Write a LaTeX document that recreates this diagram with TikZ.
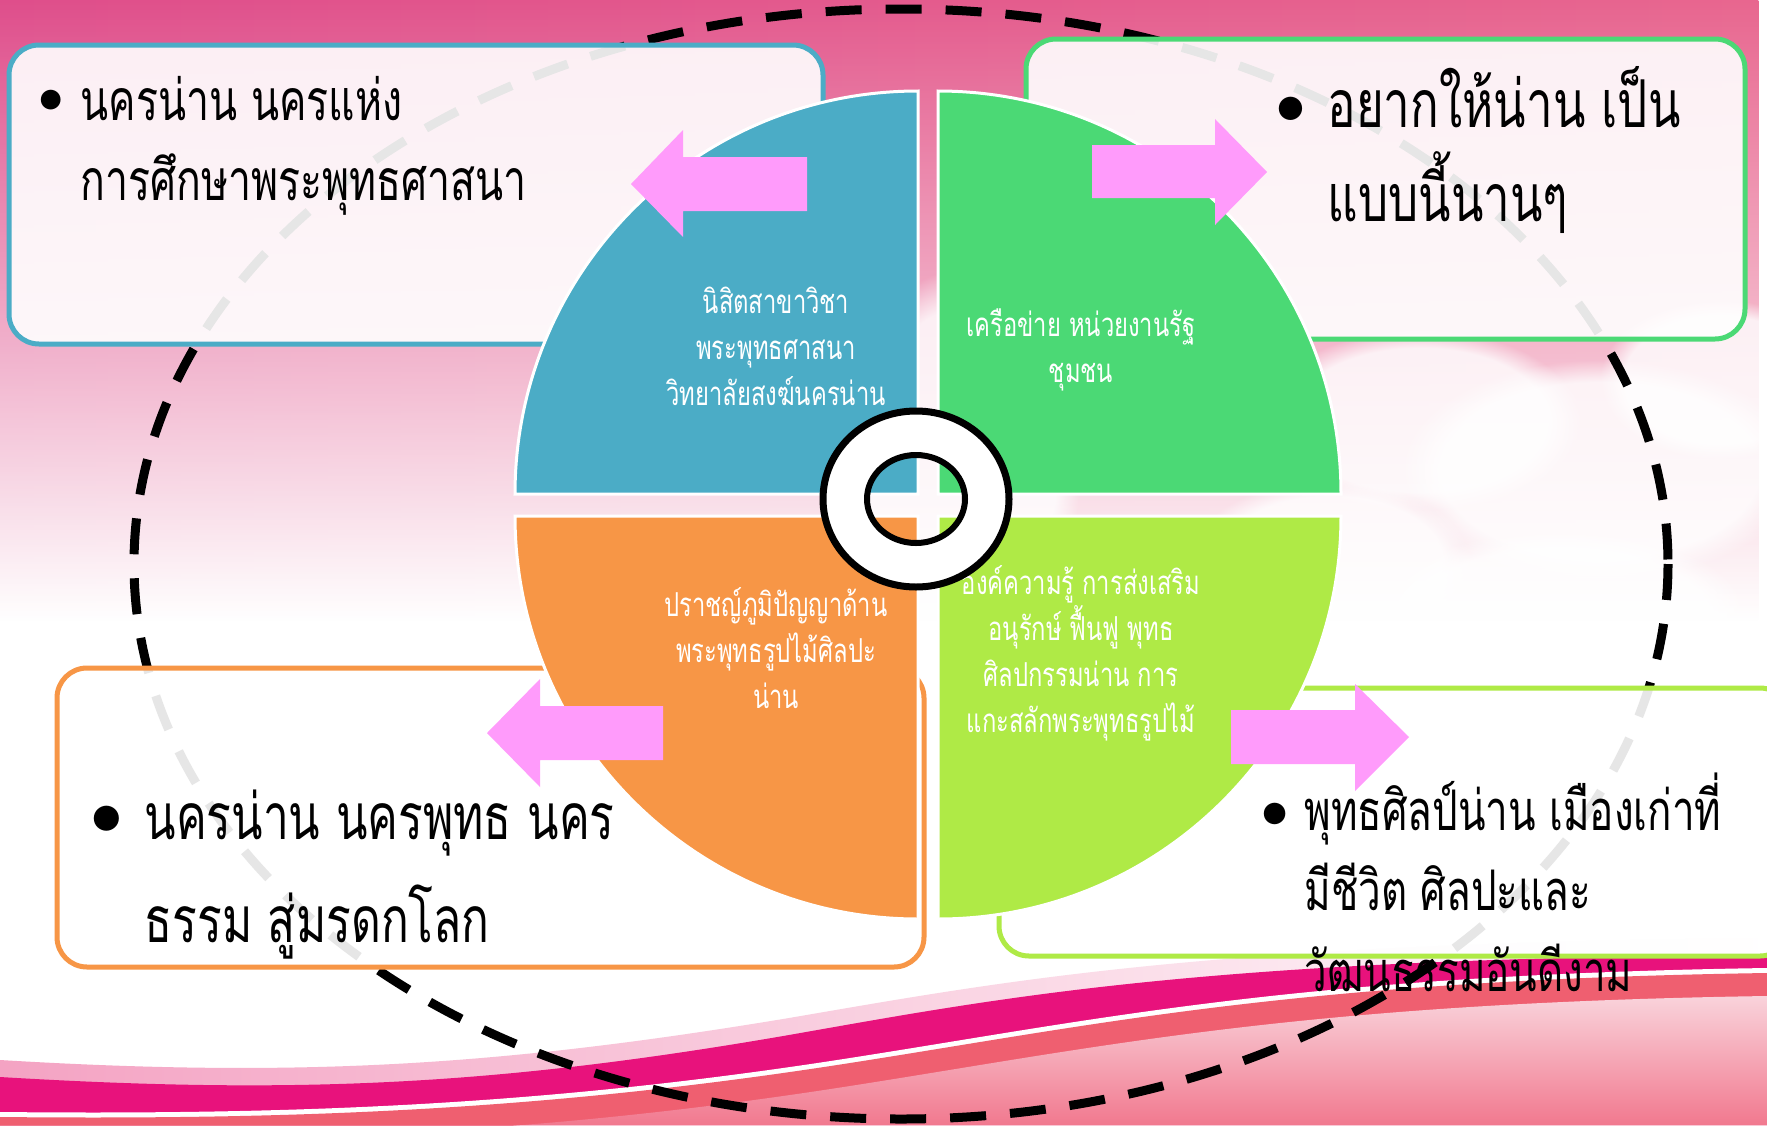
\documentclass[tikz,border=0pt]{standalone}
\usepackage{fontspec}
\newfontfamily\thai[Script=Thai,FakeStretch=0.72]{Loma}
\usetikzlibrary{fadings}
\definecolor{qblue}{HTML}{4BACC6}
\definecolor{qgreen}{HTML}{4BD975}
\definecolor{qorange}{HTML}{F79646}
\definecolor{qlime}{HTML}{AFEA46}
\definecolor{arrowpink}{HTML}{FF9BFB}
\definecolor{panelfill}{HTML}{FFFFFF}
\definecolor{skyleft}{HTML}{DF4E8B}
\definecolor{skymid}{HTML}{F4948A}
\definecolor{skyright}{HTML}{E8668F}
\definecolor{waveglow}{HTML}{F4A3C3}
\definecolor{wavebright}{HTML}{E8127C}
\definecolor{wavedark}{HTML}{A50050}
\definecolor{wavesalmon}{HTML}{EF5F70}
\definecolor{wavepale}{HTML}{F9D3DB}
\definecolor{wavedeep}{HTML}{F06C84}
\tikzfading[name=fadedown, top color=transparent!0, middle color=transparent!30, bottom color=transparent!100]
\newcommand\blt[3]{\llap{\raisebox{#3}{\rmfamily\fontsize{#1}{#1}\selectfont\textbullet}\hspace{#2}}}

\begin{document}
\begin{tikzpicture}[
						x=1pt, y=-1pt,
						quad/.style = {draw=white, line width=3pt},
						panel/.style = {rounded corners=30pt, line width=5pt, fill=panelfill, fill opacity=0.9},
						pinkarrow/.style = {fill=arrowpink},
						quadtext/.style = {text=white, align=center, anchor=base, font=\thai\fontsize{33}{46}\selectfont},
						boxtext/.style = {align=left, anchor=base west}
					]
\useasboundingbox (0,0) rectangle (1767,1125);
\fill[white] (0,0) rectangle (1767,1125);
\shade[left color=skyleft, middle color=skymid, right color=skyright, path fading=fadedown] (0,0) rectangle (1767,620);
\foreach \cx/\cy/\ca/\cb in {1420/420/160/90, 1600/470/200/110, 1720/380/120/80, 1330/560/140/80, 1560/620/190/90, 960/470/120/200}
	\fill[white, fill opacity=0.8, path fading=circle with fuzzy edge 20 percent] (\cx,\cy) ellipse [x radius=\ca, y radius=\cb];

\shade[left color=waveglow, right color=white] (0,1060) .. controls (300,1078) and (500,1066) .. (789,1018) .. controls (1000,982) and (1200,943) .. (1767,938) -- (1767,1125) -- (0,1125) -- cycle;
\shade[left color=wavebright, middle color=wavedark, right color=wavebright] (0,1077) .. controls (300,1095) and (500,1085) .. (789,1035) .. controls (1000,998) and (1200,958) .. (1767,955) -- (1767,1125) -- (0,1125) -- cycle;
\fill[white] (0,1112) .. controls (300,1115) and (550,1105) .. (850,1058) .. controls (1100,1019) and (1300,975) .. (1767,968) -- (1767,1125) -- (0,1125) -- cycle;
\fill[wavesalmon] (0,1117) .. controls (300,1120) and (550,1110) .. (850,1063) .. controls (1100,1024) and (1300,980) .. (1767,973) -- (1767,1125) -- (0,1125) -- cycle;
\shade[top color=wavepale, bottom color=wavedeep] (0,1140) .. controls (300,1143) and (550,1133) .. (850,1086) .. controls (1100,1047) and (1300,1003) .. (1767,996) -- (1767,1125) -- (0,1125) -- cycle;

\draw[line width=9pt, dash pattern=on 36pt off 24pt] (901,564) ellipse [x radius=767, y radius=555];

\draw[panel, draw=qblue] (9,45) rectangle (823,344);
\draw[panel, draw=qgreen] (1026,39) rectangle (1745,339);
\draw[panel, draw=qorange] (57,668) rectangle (924,967);
\draw[panel, draw=qlime] (999,688) rectangle (1790,956);

\node[boxtext, font=\thai\fontsize{57}{80}\selectfont] (study) at (77,200) {\blt{88}{-2pt}{-3pt}นครน่าน นครแห่ง\\การศึกษาพระพุทธศาสนา};
\node[boxtext, font=\thai\fontsize{66}{94}\selectfont] (wish) at (1324,221) {\blt{104}{-1pt}{-9pt}อยากให้น่าน เป็น\\แบบนี้นานๆ};
\node[boxtext, font=\thai\fontsize{64}{103}\selectfont] (city) at (141,942) {\blt{112}{-3pt}{-9pt}นครน่าน นครพุทธ นคร\\ธรรม สู่มรดกโลก};
\node[boxtext, font=\thai\fontsize{56}{80.5}\selectfont] (art) at (1301,991) {\blt{96}{-5pt}{-9pt}พุทธศิลป์น่าน เมืองเก่าที่\\มีชีวิต ศิลปะและ\\วัฒนธรรมอันดีงาม};

\filldraw[quad, fill=qblue] (918,494) -- ++(-403,0) arc[start angle=180, end angle=270, radius=403] -- cycle;
\filldraw[quad, fill=qgreen] (938,494) -- ++(403,0) arc[start angle=0, end angle=-90, radius=403] -- cycle;
\filldraw[quad, fill=qorange] (918,516) -- ++(-403,0) arc[start angle=180, end angle=90, radius=403] -- cycle;
\filldraw[quad, fill=qlime] (938,516) -- ++(403,0) arc[start angle=0, end angle=90, radius=403] -- cycle;

\node[quadtext] (student) at (776,405) {นิสิตสาขาวิชา\\พระพุทธศาสนา\\วิทยาลัยสงฆ์นครน่าน};
\node[quadtext] (network) at (1081,382) {เครือข่าย หน่วยงานรัฐ\\ชุมชน};
\node[quadtext] (sage) at (776,708) {ปราชญ์ภูมิปัญญาด้าน\\พระพุทธรูปไม้ศิลปะ\\น่าน};
\node[quadtext] (knowledge) at (1081,732) {องค์ความรู้ การส่งเสริม\\อนุรักษ์ ฟื้นฟู พุทธ\\ศิลปกรรมน่าน การ\\แกะสลักพระพุทธรูปไม้};

\fill[white, even odd rule] (916,499) ellipse [x radius=93, y radius=88] (916,499) ellipse [x radius=49, y radius=44];
\draw[line width=7pt] (916,499) ellipse [x radius=93, y radius=88];
\draw[line width=6pt] (916,499) ellipse [x radius=49, y radius=44];

\fill[pinkarrow] (807,157) -- (683,157) -- (683,130) -- (631,184) -- (683,237) -- (683,211) -- (807,211) -- cycle;
\fill[pinkarrow] (1092,145) -- (1215,145) -- (1215,119) -- (1267,172) -- (1215,225) -- (1215,198) -- (1092,198) -- cycle;
\fill[pinkarrow] (663,706) -- (540,706) -- (540,679) -- (487,733) -- (540,787) -- (540,760) -- (663,760) -- cycle;
\fill[pinkarrow] (1231,710) -- (1355,710) -- (1355,684) -- (1409,737) -- (1355,791) -- (1355,764) -- (1231,764) -- cycle;
\end{tikzpicture}
\end{document}
